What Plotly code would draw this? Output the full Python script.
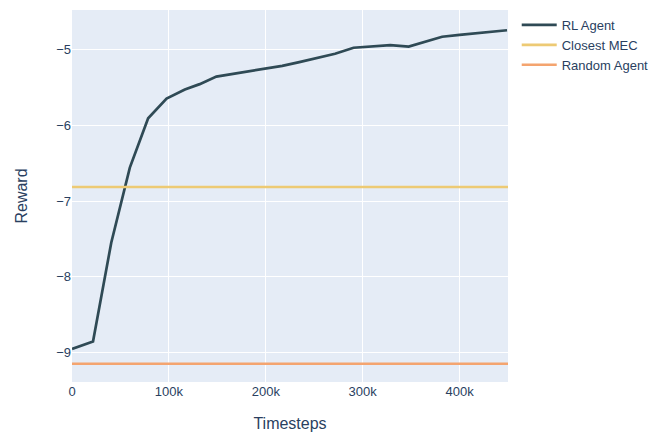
import plotly.graph_objects as go

timesteps = [0, 21700, 40500, 59700, 78600, 97600, 116500, 131800, 149000, 169600,
             192000, 217000, 234600, 253500, 271500, 290600, 310000, 328500, 347500,
             365000, 382000, 400000, 449000]
rl_reward = [-8.95, -8.85, -7.55, -6.56, -5.91, -5.65, -5.53, -5.46, -5.36, -5.32,
             -5.27, -5.22, -5.17, -5.11, -5.06, -4.98, -4.96, -4.945, -4.965,
             -4.90, -4.835, -4.81, -4.75]
closest_mec = -6.815
random_agent = -9.145

x_range = [0, 450000]
y_range = [-9.385, -4.483]

fig = go.Figure()
fig.add_trace(go.Scatter(x=timesteps, y=rl_reward, mode="lines", name="RL Agent",
                         line=dict(color="#2F4A55", width=2.7)))
fig.add_trace(go.Scatter(x=x_range, y=[closest_mec, closest_mec], mode="lines",
                         name="Closest MEC", line=dict(color="#EDCA74", width=2.6)))
fig.add_trace(go.Scatter(x=x_range, y=[random_agent, random_agent], mode="lines",
                         name="Random Agent", line=dict(color="#F4A46F", width=2.6)))

fig.update_layout(
    width=656, height=433,
    template="plotly",
    font=dict(family="Liberation Sans, Arial, sans-serif", color="#2a3f5f", size=13),
    margin=dict(l=64, r=156, t=2, b=59),
    xaxis=dict(title=dict(text="Timesteps", font=dict(size=16), standoff=19),
               range=x_range, zeroline=False, tickfont=dict(size=13)),
    yaxis=dict(title=dict(text="Reward", font=dict(size=16), standoff=24),
               range=y_range, zeroline=False, dtick=1, tickfont=dict(size=13)),
    legend=dict(font=dict(size=13), itemwidth=35, y=1.0),
)
fig.write_html("out.html")
